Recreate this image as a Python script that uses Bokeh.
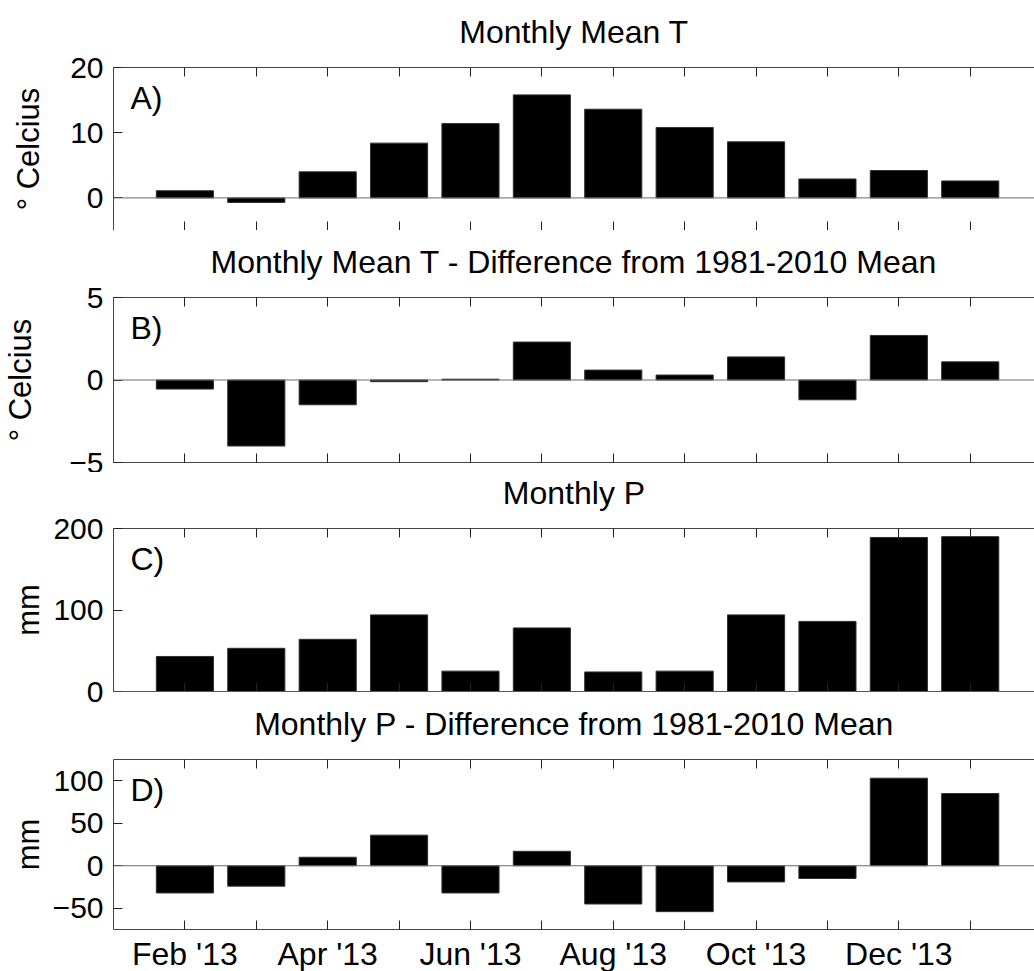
from bokeh.plotting import figure
from bokeh.layouts import column
from bokeh.models import LinearAxis, FixedTicker, Span, Label, Range1d, Title
from bokeh.embed import file_html
from bokeh.resources import INLINE

# ---- data ----
months = ["Feb '13", "Mar '13", "Apr '13", "May '13", "Jun '13", "Jul '13",
          "Aug '13", "Sep '13", "Oct '13", "Nov '13", "Dec '13", "Jan '14"]
month_pos = list(range(1, 13))
labelled_months = ["Feb '13", "Apr '13", "Jun '13", "Aug '13", "Oct '13", "Dec '13"]

mean_t = [1.1, -0.7, 4.0, 8.4, 11.4, 15.8, 13.6, 10.8, 8.6, 2.9, 4.2, 2.6]
mean_t_diff = [-0.55, -4.0, -1.5, -0.1, 0.05, 2.3, 0.6, 0.3, 1.4, -1.2, 2.7, 1.1]
precip = [43, 53, 64, 94, 25, 78, 24, 25, 94, 86, 189, 190]
precip_diff = [-32, -24, 10, 36, -32, 17, -45, -54, -19, -15, 103, 85]

titles = ["Monthly Mean T", "Monthly Mean T - Difference from 1981-2010 Mean",
          "Monthly P", "Monthly P - Difference from 1981-2010 Mean"]
ylabels = ["\u00b0 Celcius", "\u00b0 Celcius", "mm", "mm"]
letters = ["A)", "B)", "C)", "D)"]
y_ranges = [(-5, 20), (-5, 5), (0, 200), (-75, 125)]
y_ticks = [[0, 10, 20], [-5, 0, 5], [0, 100, 200], [-50, 0, 50, 100]]

X_START, X_END = 0, 12.9      # visible part of the month axis
FONT = "Liberation Sans"
FRAME_COL = "#444444"
TICK_COL = "#222222"
TITLE_GAP = 18                # space between title and frame top


def hidden_axis(ticks, tick_out=0):
    ax = LinearAxis(ticker=FixedTicker(ticks=ticks))
    ax.minor_tick_line_color = None
    ax.major_label_text_font_size = "0px"
    ax.major_label_text_color = None
    ax.major_label_standoff = 0
    ax.major_tick_out = tick_out
    return ax


def make_panel(idx, values, frame_h, top_b, bottom_b, lab_standoff, show_x):
    yr = y_ranges[idx]
    p = figure(width=1034, frame_height=frame_h,
               x_range=Range1d(X_START, X_END), y_range=Range1d(*yr),
               output_backend="svg", toolbar_location=None,
               min_border_left=110, min_border_right=0,
               min_border_top=top_b, min_border_bottom=bottom_b)
    p.outline_line_color = None
    p.grid.visible = False
    p.background_fill_color = "white"
    p.border_fill_color = "white"

    p.add_layout(Span(location=0, dimension="width", line_color="#6a6a6a", line_width=1))
    p.vbar(x=month_pos, top=values, bottom=0, width=0.8,
           fill_color="black", line_color="#303030", line_width=1)

    # left axis
    ya = p.yaxis[0]
    ya.ticker = FixedTicker(ticks=y_ticks[idx])
    ya.minor_tick_line_color = None
    ya.major_tick_in = 9
    ya.major_tick_out = 0
    ya.major_tick_line_color = TICK_COL
    ya.axis_line_color = FRAME_COL
    ya.major_label_text_font = FONT
    ya.major_label_text_font_size = "30px"
    ya.major_label_text_color = "black"
    ya.major_label_standoff = 10
    ya.axis_label = ylabels[idx]
    ya.axis_label_text_font = FONT
    ya.axis_label_text_font_size = "31px"
    ya.axis_label_text_font_style = "normal"
    ya.axis_label_text_color = "black"
    ya.axis_label_standoff = lab_standoff

    # bottom axis
    xa = p.xaxis[0]
    xa.ticker = FixedTicker(ticks=month_pos)
    xa.minor_tick_line_color = None
    xa.major_tick_in = 9
    xa.major_tick_out = 0
    xa.major_tick_line_color = TICK_COL
    xa.axis_line_color = FRAME_COL
    if show_x:
        overrides = {m: "" for m in month_pos}
        for m, name in zip(month_pos, months):
            if name in labelled_months:
                overrides[m] = name
        xa.major_label_overrides = overrides
        xa.major_label_text_font = FONT
        xa.major_label_text_font_size = "32px"
        xa.major_label_text_color = "black"
        xa.major_label_standoff = 6
    else:
        xa.major_label_text_font_size = "0px"
        xa.major_label_text_color = None
        xa.major_label_standoff = 0

    # top axis (frame top with inward ticks)
    ta = hidden_axis(month_pos)
    ta.major_tick_in = 9
    ta.major_tick_line_color = TICK_COL
    ta.axis_line_color = FRAME_COL
    p.add_layout(ta, "above")

    # practically invisible spacer between the frame and the title
    sp = hidden_axis(month_pos, tick_out=TITLE_GAP)
    sp.axis_line_color = None
    sp.major_tick_in = 0
    sp.major_tick_line_color = "white"
    sp.major_tick_line_alpha = 0.01
    p.add_layout(sp, "above")

    p.add_layout(Title(text=titles[idx], align="center", vertical_align="bottom",
                       standoff=0, text_font=FONT, text_font_size="32px",
                       text_font_style="normal", text_color="black"), "above")

    # panel letter
    p.add_layout(Label(x=X_START, y=yr[1], x_offset=17, y_offset=-12, text=letters[idx],
                       text_baseline="top", text_align="left",
                       text_font=FONT, text_font_size="32px", text_color="black"))
    return p


pa = make_panel(0, mean_t, 163, 67, 0, 21, False)
pb = make_panel(1, mean_t_diff, 165, 67, 10, 28, False)
pc = make_panel(2, precip, 163, 56, 12, 4, False)
pd_ = make_panel(3, precip_diff, 170, 56, 0, 4, True)

layout = column(pa, pb, pc, pd_, spacing=0)
open("out.html", "w").write(file_html(layout, INLINE))
